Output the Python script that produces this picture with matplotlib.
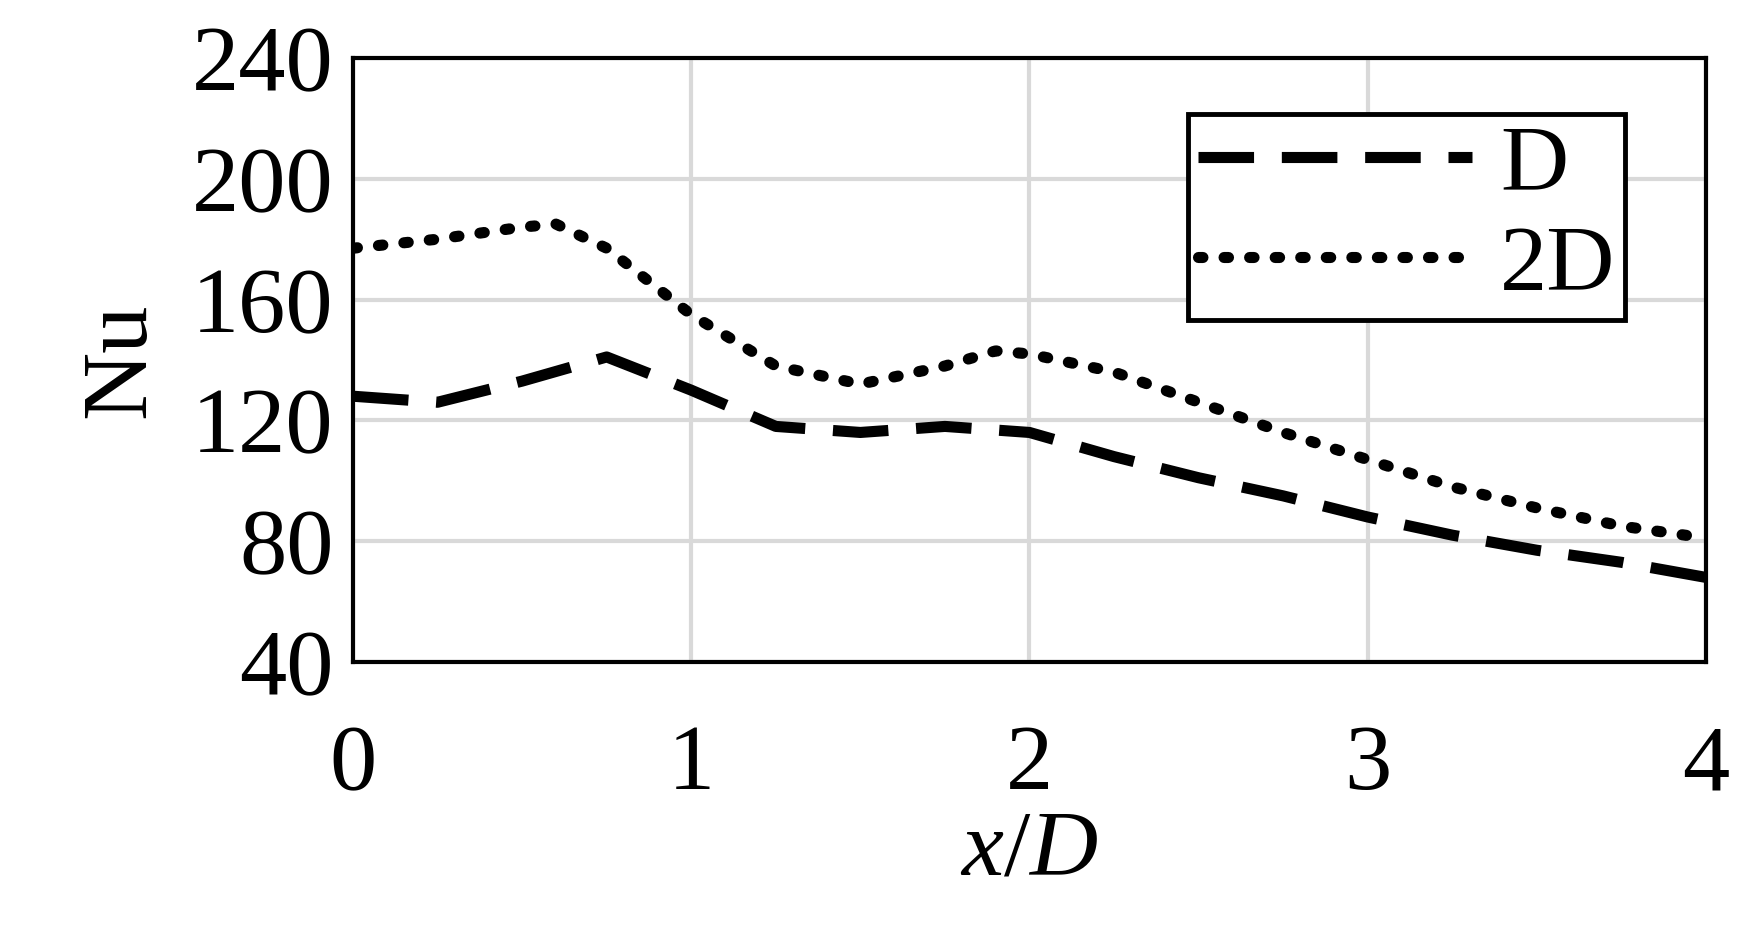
import matplotlib.pyplot as plt

x_d = [0, 0.25, 0.5, 0.75, 1.0, 1.25, 1.5, 1.75, 2.0, 2.25, 2.5, 2.75, 3.0, 3.25, 3.5, 3.75, 4.0]
nu_d = [128, 126, 133, 141, 130, 118, 116, 118, 116, 108, 101, 95, 88, 82, 77, 73, 68]

x_2d = [0, 0.25, 0.5, 0.6, 0.75, 1.0, 1.25, 1.5, 1.75, 1.9, 2.0, 2.25, 2.5, 2.75, 3.0, 3.25, 3.5, 3.75, 4.0]
nu_2d = [177, 180, 184, 185, 177, 155, 138, 132, 138, 143, 142, 136, 126, 116, 107, 98, 91, 85, 81]

plt.rcParams['font.family'] = ['Liberation Serif', 'DejaVu Serif']
plt.rcParams['mathtext.fontset'] = 'custom'
plt.rcParams['mathtext.rm'] = 'Liberation Serif'
plt.rcParams['mathtext.it'] = 'Liberation Serif:italic'

fig = plt.figure(figsize=(17.39, 9.35), dpi=100)
ax = fig.add_axes([0.203, 0.292, 0.778, 0.646])

ax.plot(x_d, nu_d, color='black', lw=8, dashes=(5, 2.5), label='D')
ax.plot(x_2d, nu_2d, color='black', lw=8, dashes=(0.4, 1.9), dash_capstyle='round', label='2D')

ax.set_xlim(0, 4)
ax.set_ylim(40, 240)
ax.set_xticks([0, 1, 2, 3, 4])
ax.set_yticks(range(40, 241, 40))
ax.grid(True, color='#d9d9d9', lw=3)
ax.set_axisbelow(True)
for s in ax.spines.values():
    s.set_linewidth(3)
ax.tick_params(labelsize=68, length=0, pad=14)
ax.tick_params(axis='x', pad=45)
ax.set_xlabel('$x$/$D$', fontsize=68, labelpad=0)
ax.set_ylabel('Nu', fontsize=68, labelpad=20)

leg = ax.legend(loc='upper right', fontsize=68, fancybox=False, edgecolor='black',
                handlelength=2.9, borderpad=0.1, labelspacing=0.15, handletextpad=0.3,
                bbox_to_anchor=(0.975, 0.985), framealpha=1)
leg.get_frame().set_linewidth(3.5)

fig.savefig('out.png')
